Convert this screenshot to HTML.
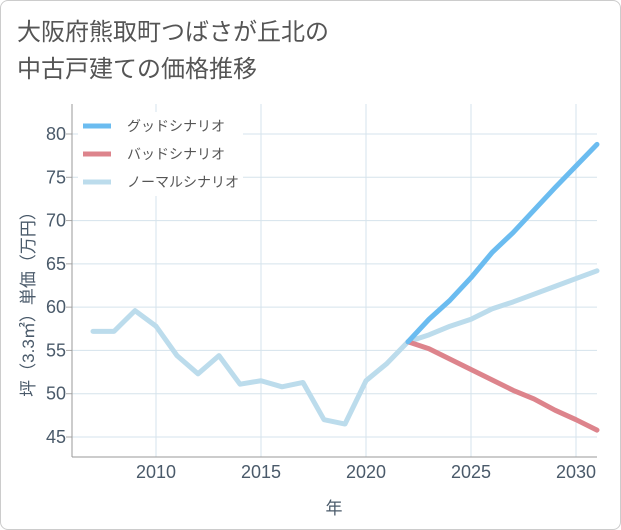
<!DOCTYPE html>
<html><head><meta charset="utf-8"><style>
body{margin:0;background:#fff;}
#card{position:absolute;left:0;top:0;width:619px;height:528px;border:1px solid #ccc;border-radius:8px;background:#fff;}
.t{font-family:"Liberation Sans","Noto Sans CJK JP",sans-serif;}
</style></head><body>
<div id="card">
<div class="t" style="position:absolute;left:16px;top:13px;font-size:24px;line-height:37px;color:#555;">大阪府熊取町つばさが丘北の<br>中古戸建ての価格推移</div>
</div>
<svg id="chart" width="621" height="530" style="position:absolute;left:0;top:0"></svg>
<script>
const years=[2007,2008,2009,2010,2011,2012,2013,2014,2015,2016,2017,2018,2019,2020,2021,2022,2023,2024,2025,2026,2027,2028,2029,2030,2031];
const normal=[57.2,57.2,59.6,57.8,54.4,52.3,54.4,51.1,51.5,50.8,51.3,47.0,46.5,51.5,53.5,56.0,56.8,57.8,58.6,59.8,60.6,61.5,62.4,63.3,64.2];
const futureYears=[2022,2023,2024,2025,2026,2027,2028,2029,2030,2031];
const good=[56.0,58.6,60.8,63.4,66.3,68.6,71.2,73.8,76.3,78.8];
const bad=[56.0,55.2,54.0,52.8,51.6,50.4,49.4,48.1,47.0,45.8];
const xTicks=[2010,2015,2020,2025,2030];
const yTicks=[45,50,55,60,65,70,75,80];
const ns="http://www.w3.org/2000/svg",svg=document.getElementById('chart');
const L=72,R=597,T=104,B=457;
const x=v=>L+(v-2006)*(R-L)/25;
const y=v=>437-(v-45)*(437-134)/35;
function mk(t,a,p){const e=document.createElementNS(ns,t);for(const k in a)e.setAttribute(k,a[k]);(p||svg).appendChild(e);return e;}
const F='"Liberation Sans","Noto Sans CJK JP",sans-serif';
yTicks.forEach(v=>{const g=mk('line',{x1:L,x2:R,y1:y(v),y2:y(v),stroke:'#d5e3ec','stroke-width':1});
mk('line',{x1:L-6,x2:L,y1:y(v),y2:y(v),stroke:'#aaa'});
const t=mk('text',{x:L-6,y:y(v)+6,'text-anchor':'end','font-size':18,fill:'#4a5a6a','font-family':F});t.textContent=v;});
xTicks.forEach(v=>{const g=mk('line',{x1:x(v),x2:x(v),y1:T,y2:B,stroke:'#d5e3ec'});
const t=mk('text',{x:x(v),y:B+21,'text-anchor':'middle','font-size':18,fill:'#4a5a6a','font-family':F});t.textContent=v;});
mk('line',{x1:L,x2:L,y1:T,y2:B,stroke:'#999'});mk('line',{x1:L,x2:R,y1:B,y2:B,stroke:'#999'});
function line(xs,vs,c,n){const p=mk('polyline',{points:xs.map((v,i)=>x(v)+','+y(vs[i])).join(' '),fill:'none',stroke:c,'stroke-width':5,'stroke-linejoin':'round','stroke-linecap':'round'});}
line(years,normal,'#bcdcec','normal-scenario-line');
line(futureYears,bad,'#dd848c','bad-scenario-line');
line(futureYears,good,'#6bbcf0','good-scenario-line');
const lg=[['グッドシナリオ','#6bbcf0'],['バッドシナリオ','#dd848c'],['ノーマルシナリオ','#bcdcec']];
mk('rect',{x:78,y:112,width:165,height:84,fill:'#fff'});
lg.forEach((d,i)=>{const yy=126+i*28;const l=mk('line',{x1:83,x2:111,y1:yy,y2:yy,stroke:d[1],'stroke-width':5});
const t=mk('text',{x:127,y:yy+5,'font-size':14,fill:'#555','font-family':F});t.textContent=d[0];});
const xt=mk('text',{x:334,y:514,'text-anchor':'middle','font-size':17,fill:'#4a5a6a','font-family':F});xt.textContent='年';
const yt=mk('text',{x:0,y:0,'text-anchor':'middle','font-size':17,fill:'#4a5a6a','font-family':F,transform:'translate(34,300) rotate(-90)'});yt.textContent='坪（3.3㎡）単価（万円）';
</script>
</body></html>
